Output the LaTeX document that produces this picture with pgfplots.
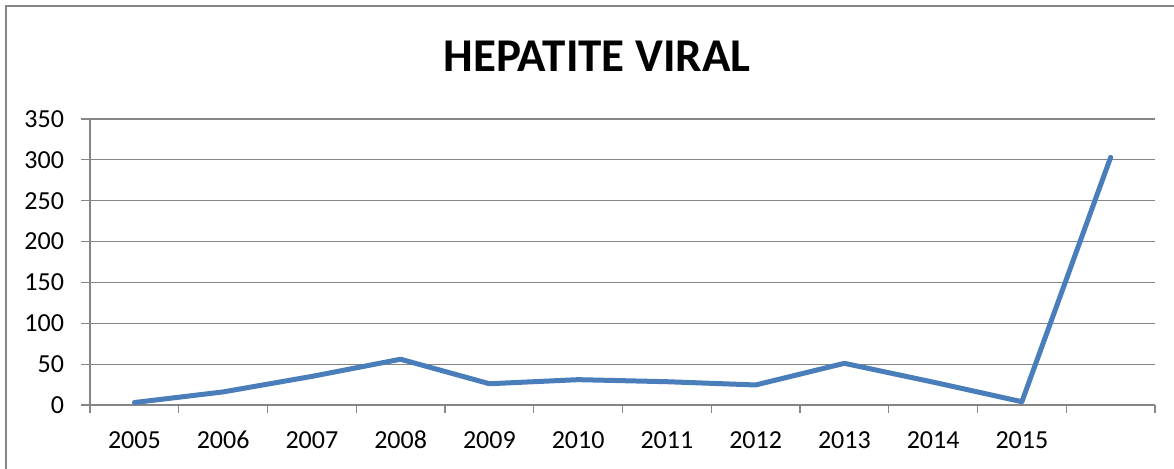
\documentclass[border=0pt]{standalone}
\usepackage{pgfplots}
\pgfplotsset{compat=1.18}
\usepackage{fontspec}
\setmainfont{Carlito}
\definecolor{xlblue}{RGB}{74,126,187}
\definecolor{xlgray}{RGB}{134,134,134}
\begin{document}
\begin{tikzpicture}[x=0.5pt,y=0.5pt]
\path[use as bounding box] (0,0) rectangle (1174,469);
\draw[xlgray,line width=1pt] (6,0) -- (6,463) -- (1174,463);
\node[anchor=base,font=\fontsize{23.5pt}{28pt}\selectfont\bfseries] at (597,397.3) {HEPATITE VIRAL};
\begin{axis}[
  at={(45pt,32pt)}, anchor=origin,
  scale only axis, width=532.5pt, height=143pt,
  xmin=0, xmax=12, ymin=0, ymax=350,
  ytick={0,50,...,350},
  xtick={0.5,1.5,...,10.5},
  xticklabels={2005,2006,2007,2008,2009,2010,2011,2012,2013,2014,2015},
  minor xtick={0,1,...,12},
  xtick style={draw=none},
  minor x tick style={draw=xlgray, line width=0.6pt},
  minor tick length=4pt,
  major tick length=4.5pt,
  y tick style={draw=xlgray, line width=0.6pt},
  tick align=outside,
  ymajorgrids,
  grid style={xlgray, line width=0.6pt},
  axis x line*=bottom, axis y line*=left,
  axis line style={xlgray, line width=0.6pt, -},
  tick label style={font=\fontsize{13pt}{15pt}\selectfont},
  /pgf/number format/assume math mode=true,
  xticklabel style={anchor=base, yshift=-17.5pt},
  yticklabel style={anchor=east, xshift=-5pt},
  clip=false,
]
\addplot[xlblue, line width=2.5pt, line cap=round, line join=round] coordinates {
(0.5,3) (1.5,16) (2.5,35) (3.5,56) (4.5,26) (5.5,31) (6.5,28.5) (7.5,24.5) (8.5,51) (9.5,28) (10.5,4) (11.5,303)
};
\end{axis}
\end{tikzpicture}
\end{document}
